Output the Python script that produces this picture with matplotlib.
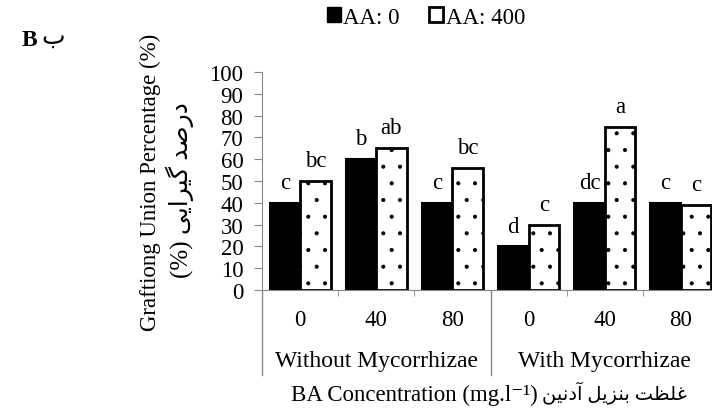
import matplotlib.pyplot as plt
import numpy as np
from matplotlib.patches import Patch

plt.rcParams['font.family'] = ['Liberation Serif', 'DejaVu Sans']
plt.rcParams['hatch.linewidth'] = 0.5

ba = ['0', '40', '80', '0', '40', '80']
groups = ['Without Mycorrhizae', 'With Mycorrhizae']
aa0 = [40, 60, 40, 20, 40, 40]
aa400 = [50, 65, 56, 30, 75, 39]
let0 = ['c', 'b', 'c', 'd', 'dc', 'c']
let400 = ['bc', 'ab', 'bc', 'c', 'a', 'c']

# persian text, pre-shaped (presentation forms, visual order)
fa_ylabel = '(%) ' + '\uFBFD\uFBFE\uFE8D\uFEAE\uFBFF\uFB94 \uFEAA\uFEBB\uFEAD\uFEA9'
fa_xlabel = '\uFEE6\uFBFF\uFEE7\uFEA9\uFE81 \uFEDE\uFBFE\uFEB0\uFEE8\uFE91 \uFE96\uFEC8\uFEE0\uFECF'

fs = 16.5

fig = plt.figure(figsize=(7.12, 4.10), dpi=100)
ax = fig.add_axes([262 / 712, 119 / 410, 457 / 712, 218 / 410])

x = np.arange(len(ba))
w = 0.4
ax.bar(x - w / 2, aa0, width=w, color='black', edgecolor='black', linewidth=1.5)
ax.bar(x + w / 2, aa400, width=w, color='white', edgecolor='black', linewidth=2, hatch='.')

# letters of mean comparison
for i in range(len(ba)):
    ax.text(x[i] - w / 2, aa0[i] + 4.5, let0[i], ha='center', va='bottom', fontsize=fs)
    ax.text(x[i] + w / 2, aa400[i] + 4.5, let400[i], ha='center', va='bottom', fontsize=fs)

ax.set_xlim(-0.5, 5.5)
ax.set_ylim(0, 100)
ax.set_yticks(range(0, 101, 10))
ax.tick_params(axis='y', labelsize=fs, length=5.5, color='#888888', pad=8)
ax.set_xticks(x)
ax.set_xticklabels(ba, fontsize=fs)
ax.tick_params(axis='x', which='major', length=0, pad=14)
ax.set_xticks(np.arange(-0.5, 6, 1), minor=True)
ax.tick_params(axis='x', which='minor', length=4, color='#888888')

for s in ['top', 'right']:
    ax.spines[s].set_visible(False)
ax.spines['left'].set_color('#888888')
ax.spines['bottom'].set_color('#888888')

# separators under the axis
trans = ax.get_xaxis_transform()
for xs in [-0.5, 2.5]:
    ax.plot([xs, xs], [0, -0.39], color='#888888', lw=1, transform=trans, clip_on=False)
ax.text(1, -0.325, groups[0], transform=trans, ha='center', va='center', fontsize=17)
ax.text(4, -0.325, groups[1], transform=trans, ha='center', va='center', fontsize=17)

fig.text(538 / 712, 1 - 395 / 410, 'BA Concentration (mg.l\u207b\u00b9)',
         ha='right', va='center', fontsize=fs)
fig.text(542 / 712, 1 - 393 / 410, fa_xlabel, ha='left', va='center', fontsize=14)

fig.text(150 / 712, 1 - 182 / 410, 'Graftiong Union Percentage (%)', rotation=90,
         ha='center', va='center', fontsize=fs)
fig.text(180 / 712, 1 - 190 / 410, fa_ylabel, rotation=90,
         ha='center', va='center', fontsize=18)

fig.text(22 / 712, 1 - 40 / 410, 'B', fontsize=17, fontweight='bold', ha='left', va='center')
fig.text(41 / 712, 1 - 38 / 410, '\u0628', fontsize=18, ha='left', va='center')

handles = [Patch(facecolor='black', edgecolor='black'),
           Patch(facecolor='white', edgecolor='black', linewidth=2)]
fig.legend(handles, ['AA: 0', 'AA: 400'], loc='center', bbox_to_anchor=(426 / 712, 1 - 18 / 410),
           ncol=2, frameon=False, fontsize=fs, handlelength=0.6, handleheight=0.6,
           handletextpad=0.1, columnspacing=1.3)

fig.savefig('out.png', dpi=100)
